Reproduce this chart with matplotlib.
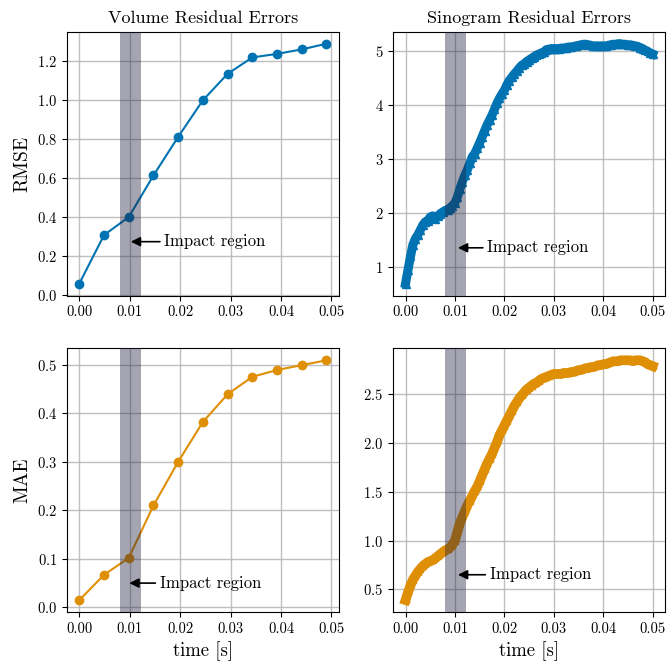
import matplotlib
matplotlib.use("Agg")
import matplotlib.pyplot as plt
from matplotlib.ticker import FormatStrFormatter

plt.rcParams["font.family"] = "serif"
plt.rcParams["font.serif"] = ["cmr10"]
plt.rcParams["mathtext.fontset"] = "cm"
plt.rcParams["axes.formatter.use_mathtext"] = True

BLUE = "#0173b2"
ORANGE = "#de8f05"

# volume residuals (coarse time steps)
vol_time = [0.0, 0.0049, 0.0098, 0.0147, 0.0196, 0.0245, 0.0294, 0.0343, 0.0392, 0.0441, 0.049]
vol_rmse = [0.061, 0.309, 0.401, 0.614, 0.811, 0.998, 1.133, 1.217, 1.235, 1.258, 1.287]
vol_mae = [0.015, 0.067, 0.102, 0.210, 0.300, 0.382, 0.439, 0.475, 0.489, 0.499, 0.509]

# sinogram residuals (fine time steps, 0.5 ms)
sino_time = [i * 0.0005 for i in range(101)]
sino_rmse = [0.70, 0.95, 1.20, 1.42, 1.53, 1.60, 1.69, 1.78, 1.84, 1.86,
             1.93, 1.95, 1.90, 1.94, 1.99, 2.02, 2.05, 2.06, 2.10, 2.14,
             2.19, 2.30, 2.45, 2.58, 2.70, 2.80, 2.92, 3.04, 3.10, 3.20,
             3.30, 3.41, 3.52, 3.63, 3.72, 3.81, 3.92, 4.03, 4.12, 4.20,
             4.27, 4.37, 4.45, 4.51, 4.57, 4.62, 4.68, 4.73, 4.76, 4.80,
             4.83, 4.86, 4.89, 4.92, 4.94, 4.96, 4.98, 5.02, 5.03, 5.04,
             5.04, 5.04, 5.04, 5.05, 5.05, 5.06, 5.07, 5.07, 5.08, 5.09,
             5.10, 5.11, 5.12, 5.12, 5.11, 5.10, 5.09, 5.09, 5.09, 5.09,
             5.09, 5.09, 5.10, 5.11, 5.12, 5.12, 5.13, 5.13, 5.12, 5.12,
             5.11, 5.11, 5.10, 5.09, 5.08, 5.06, 5.04, 5.01, 4.99, 4.96,
             4.94]
sino_mae = [0.39, 0.47, 0.54, 0.60, 0.64, 0.68, 0.71, 0.74, 0.76, 0.78,
            0.79, 0.80, 0.82, 0.84, 0.86, 0.88, 0.90, 0.91, 0.93, 0.96,
            1.00, 1.09, 1.18, 1.24, 1.30, 1.36, 1.41, 1.46, 1.51, 1.55,
            1.61, 1.67, 1.73, 1.79, 1.84, 1.89, 1.95, 2.01, 2.08, 2.13,
            2.18, 2.23, 2.28, 2.33, 2.38, 2.42, 2.46, 2.49, 2.52, 2.55,
            2.57, 2.59, 2.61, 2.62, 2.64, 2.66, 2.67, 2.68, 2.69, 2.70,
            2.71, 2.71, 2.71, 2.71, 2.72, 2.72, 2.72, 2.73, 2.73, 2.74,
            2.75, 2.75, 2.76, 2.77, 2.77, 2.78, 2.78, 2.79, 2.80, 2.80,
            2.81, 2.81, 2.82, 2.83, 2.84, 2.84, 2.84, 2.85, 2.85, 2.85,
            2.85, 2.85, 2.84, 2.85, 2.85, 2.85, 2.84, 2.83, 2.81, 2.80,
            2.79]

impact_start, impact_end = 0.008, 0.0122

fig, axes = plt.subplots(2, 2, figsize=(6.7, 6.61), dpi=100)
fig.subplots_adjust(left=0.100, right=0.9925, bottom=0.074, top=0.952,
                    wspace=0.20, hspace=0.20)

(ax1, ax2), (ax3, ax4) = axes

ax1.plot(vol_time, vol_rmse, color=BLUE, marker="o", markersize=6, linewidth=1.5)
ax3.plot(vol_time, vol_mae, color=ORANGE, marker="o", markersize=6, linewidth=1.5)
ax2.plot(sino_time, sino_rmse, color=BLUE, marker="^", markersize=6, linewidth=6.5)
ax4.plot(sino_time, sino_mae, color=ORANGE, marker="s", markersize=4, linewidth=7)

ax1.set_title("Volume Residual Errors", fontsize=13)
ax2.set_title("Sinogram Residual Errors", fontsize=13)
ax1.set_ylabel("RMSE", fontsize=14)
ax3.set_ylabel("MAE", fontsize=14)
ax3.set_xlabel("time [s]", fontsize=13.5)
ax4.set_xlabel("time [s]", fontsize=13.5)

ax2.set_yticks([1, 2, 3, 4, 5])
ax4.set_yticks([0.5, 1.0, 1.5, 2.0, 2.5])

# arrow tip and text anchor for each panel
notes = [(ax1, 0.0102, 0.275, 0.0168),
         (ax2, 0.0106, 1.36, 0.0165),
         (ax3, 0.0099, 0.05, 0.0159),
         (ax4, 0.0106, 0.65, 0.0170)]

for ax, tx, ty, lx in notes:
    ax.axvspan(impact_start, impact_end, color="#20203e", alpha=0.4, linewidth=0, zorder=3)
    ax.annotate("Impact region", xy=(tx, ty), xytext=(lx, ty), va="center",
                fontsize=12,
                arrowprops=dict(arrowstyle="-|>", color="black", lw=1.2,
                                shrinkA=1, shrinkB=0, mutation_scale=14))
    ax.grid(True, color="#b0b0b0", linewidth=1.0, alpha=0.8)
    ax.tick_params(labelsize=10.5)
    ax.set_xticks([0.0, 0.01, 0.02, 0.03, 0.04, 0.05])
    ax.xaxis.set_major_formatter(FormatStrFormatter("%.2f"))

fig.savefig("out.png", dpi=100)
